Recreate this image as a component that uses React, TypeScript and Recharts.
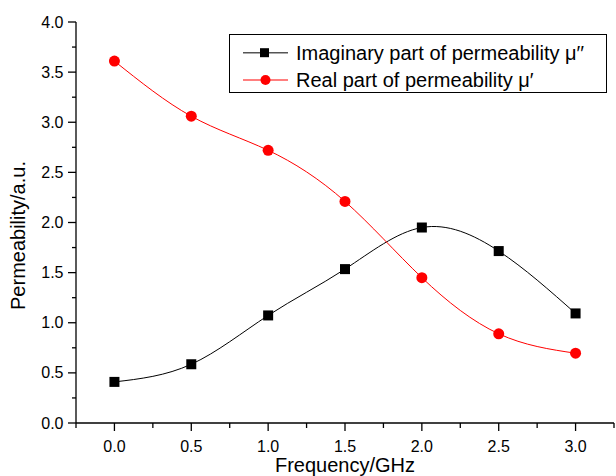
import React from "react";
import { LineChart, Line, XAxis, YAxis, Legend, Label } from "recharts";

const frequency = [0, 0.5, 1.0, 1.5, 2.0, 2.5, 3.0];
const imaginaryPart = [0.41, 0.586, 1.073, 1.535, 1.95, 1.715, 1.093];
const realPart = [3.61, 3.06, 2.72, 2.21, 1.45, 0.89, 0.696];

const xTicks = [-0.25, 0, 0.25, 0.5, 0.75, 1.0, 1.25, 1.5, 1.75, 2.0, 2.25, 2.5, 2.75, 3.0, 3.25];
const xLabelled = [0, 0.5, 1.0, 1.5, 2.0, 2.5, 3.0];
const yTicks = [0, 0.25, 0.5, 0.75, 1.0, 1.25, 1.5, 1.75, 2.0, 2.25, 2.5, 2.75, 3.0, 3.25, 3.5, 3.75, 4.0];
const yLabelled = [0, 0.5, 1.0, 1.5, 2.0, 2.5, 3.0, 3.5, 4.0];

const IMAG_NAME = "Imaginary part of permeability \u03bc\u2032\u2032";
const REAL_NAME = "Real part of permeability \u03bc\u2032";

const data = frequency.map((f, i) => ({
  freq: f,
  imag: imaginaryPart[i],
  real: realPart[i],
}));

const FONT = "'Liberation Sans', Arial, Helvetica, sans-serif";
const AXIS = { stroke: "#000", strokeWidth: 1.3 };

const has = (list: number[], v: number) => list.some((t) => Math.abs(t - v) < 1e-6);

const BottomTick = (props: any) => {
  const { x, y, payload } = props;
  const major = has(xLabelled, payload.value);
  return (
    <g>
      <line x1={x} x2={x} y1={y} y2={y + (major ? 8 : 5)} {...AXIS} />
      {major && (
        <text x={x} y={y + 29} textAnchor="middle" fontFamily={FONT} fontSize={16} fill="#000">
          {payload.value.toFixed(1)}
        </text>
      )}
    </g>
  );
};

const TopTick = (props: any) => {
  const { x, y } = props;
  return <line x1={x} x2={x} y1={y} y2={y + 3} {...AXIS} />;
};

const LeftTick = (props: any) => {
  const { x, y, payload } = props;
  const major = has(yLabelled, payload.value);
  return (
    <g>
      <line x1={x} x2={x - (major ? 8 : 4)} y1={y} y2={y} {...AXIS} />
      {major && (
        <text x={x - 12.5} y={y + 5.5} textAnchor="end" fontFamily={FONT} fontSize={16} fill="#000">
          {payload.value.toFixed(1)}
        </text>
      )}
    </g>
  );
};

const RightTick = (props: any) => {
  const { x, y } = props;
  return <line x1={x} x2={x - 3} y1={y} y2={y} {...AXIS} />;
};

const XTitle = (props: any) => {
  const vb = props.viewBox;
  return (
    <text x={vb.x + vb.width / 2} y={vb.y + vb.height - 4} textAnchor="middle" fontFamily={FONT} fontSize={20} fill="#000">
      Frequency/GHz
    </text>
  );
};

const YTitle = (props: any) => {
  const vb = props.viewBox;
  const cy = vb.y + vb.height / 2 + 13;
  return (
    <text x={25} y={cy} textAnchor="middle" fontFamily={FONT} fontSize={20} fill="#000" transform={`rotate(-90, 25, ${cy})`}>
      Permeability/a.u.
    </text>
  );
};

const Square = (p: any) => (
  <rect key={`sq-${p.index}`} x={p.cx - 5} y={p.cy - 5} width={10} height={10} fill="#000" />
);

const LegendBox = () => (
  <svg width={378} height={59} style={{ display: "block" }}>
    <rect x={0.5} y={0.5} width={377} height={58} fill="#fff" stroke="#000" strokeWidth={1} />
    <line x1={14} x2={59} y1={18.7} y2={18.7} stroke="#555" strokeWidth={1.5} />
    <rect x={31} y={14.2} width={9} height={9} fill="#000" />
    <text x={67} y={25.5} fontFamily={FONT} fontSize={20} fill="#000">
      {IMAG_NAME}
    </text>
    <line x1={14} x2={59} y1={46} y2={46} stroke="#f00" strokeWidth={1.2} />
    <circle cx={36.5} cy={46} r={5} fill="#f00" />
    <text x={67} y={52.8} fontFamily={FONT} fontSize={20} fill="#000">
      {REAL_NAME}
    </text>
  </svg>
);

export default function App() {
  return (
    <div style={{ position: "absolute", left: 0, top: 0, background: "#fff" }}>
      <LineChart width={616} height={476} data={data} margin={{ top: 22, right: 2, bottom: 0, left: 0 }}>
        <XAxis
          dataKey="freq"
          type="number"
          domain={[-0.25, 3.25]}
          ticks={xTicks}
          interval={0}
          height={53}
          axisLine={AXIS}
          tickLine={false}
          tickSize={0}
          tickMargin={0}
          tick={<BottomTick />}
          allowDataOverflow
        >
          <Label content={<XTitle />} />
        </XAxis>
        <XAxis
          xAxisId="top"
          orientation="top"
          dataKey="freq"
          type="number"
          domain={[-0.25, 3.25]}
          ticks={xTicks}
          interval={0}
          height={0}
          axisLine={AXIS}
          tickLine={false}
          tickSize={0}
          tickMargin={0}
          tick={<TopTick />}
          allowDataOverflow
        />
        <YAxis
          type="number"
          domain={[0, 4]}
          ticks={yTicks}
          interval={0}
          width={76}
          axisLine={AXIS}
          tickLine={false}
          tickSize={0}
          tickMargin={0}
          tick={<LeftTick />}
          allowDataOverflow
        >
          <Label content={<YTitle />} />
        </YAxis>
        <YAxis
          yAxisId="right"
          orientation="right"
          type="number"
          domain={[0, 4]}
          ticks={yTicks}
          interval={0}
          width={0}
          axisLine={AXIS}
          tickLine={false}
          tickSize={0}
          tickMargin={0}
          tick={<RightTick />}
          allowDataOverflow
        />
        <Legend
          layout="vertical"
          align="center"
          verticalAlign="middle"
          content={<LegendBox />}
          wrapperStyle={{ left: 229, top: 34, width: 378, height: 59 }}
        />
        <Line
          type="natural"
          dataKey="imag"
          name={IMAG_NAME}
          stroke="#000"
          strokeWidth={1}
          dot={Square}
          activeDot={false}
          isAnimationActive={false}
        />
        <Line
          type="natural"
          dataKey="real"
          name={REAL_NAME}
          stroke="#f00"
          strokeWidth={1}
          dot={{ r: 5.5, fill: "#f00", stroke: "#f00", strokeWidth: 0 }}
          activeDot={false}
          isAnimationActive={false}
        />
      </LineChart>
    </div>
  );
}
